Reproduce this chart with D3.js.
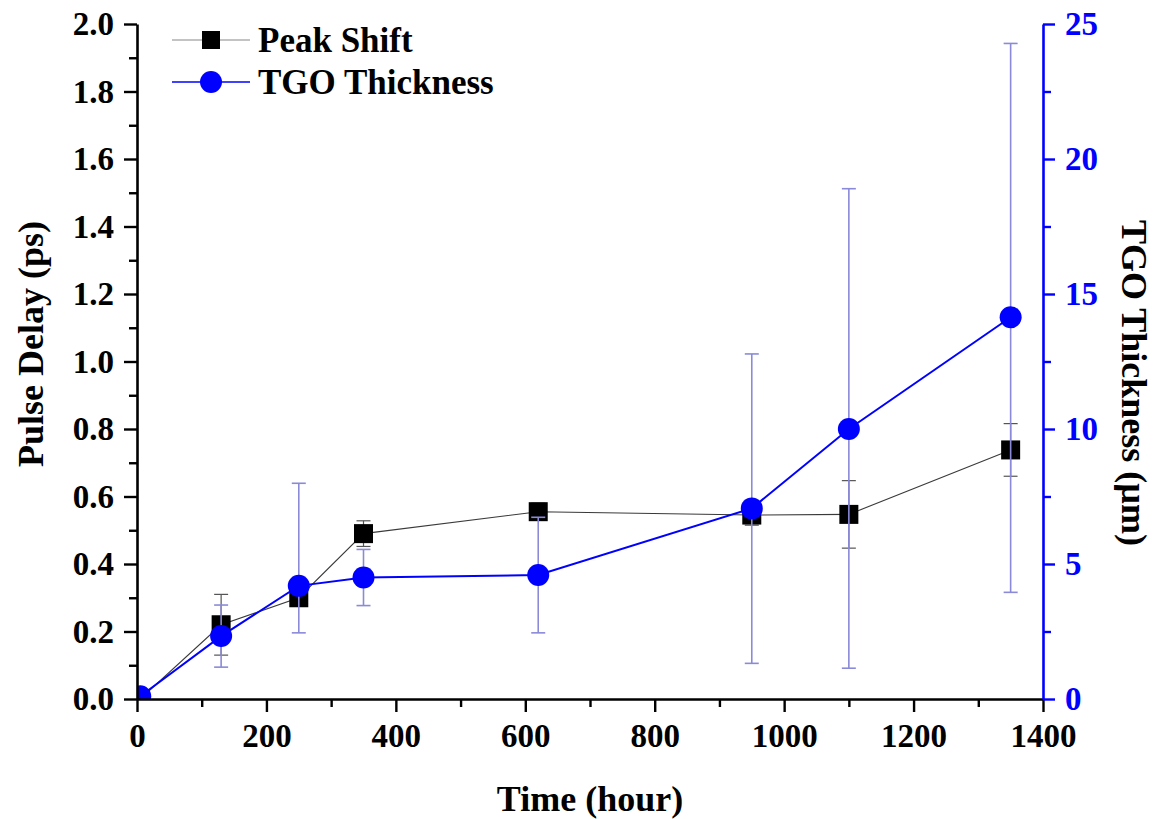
<!DOCTYPE html>
<html>
<head>
<meta charset="utf-8">
<script src="https://cdn.jsdelivr.net/npm/d3@7"></script>
<style>
  html, body { margin: 0; padding: 0; background: #fff; }
  svg { display: block; }
  text { font-family: "Liberation Serif", "Times New Roman", serif; font-weight: bold; }
</style>
</head>
<body>
<svg id="chart" width="1157" height="819"></svg>
<script>
// Time points (hours)
const times = [5, 130, 250, 350, 620, 950, 1100, 1350];
// Peak shift (pulse delay, ps) and its error
const peakShift = [0, 0.22, 0.30, 0.49, 0.555, 0.545, 0.547, 0.738];
const peakErr = [0, 0.09, 0.02, 0.038, 0.025, 0.03, 0.10, 0.078];
// TGO thickness (µm) with lower / upper error
const tgo = [0.1, 2.33, 4.19, 4.5, 4.59, 7.06, 10.0, 14.14];
const tgoErrLow = [0, 1.15, 1.74, 1.04, 2.14, 5.74, 8.86, 10.19];
const tgoErrHigh = [0, 1.15, 3.8, 1.04, 2.14, 5.72, 8.9, 10.14];

const xTicks = [0, 200, 400, 600, 800, 1000, 1200, 1400];
const leftTicks = [0, 0.2, 0.4, 0.6, 0.8, 1.0, 1.2, 1.4, 1.6, 1.8, 2.0];
const rightTicks = [0, 5, 10, 15, 20, 25];

const BLUE = "#0000ff";
const ERR_BLUE = "#8a8ad8";

const svg = d3.select("#chart");

const x = d3.scaleLinear().domain([0, 1400]).range([137, 1043]);
const yL = d3.scaleLinear().domain([0, 2]).range([699, 24]);
const yR = d3.scaleLinear().domain([0, 25]).range([699, 24]);

// Data layer is clipped to the plot frame
svg.append("defs").append("clipPath").attr("id", "plot-clip")
  .append("rect").attr("x", 137).attr("y", 0).attr("width", 906).attr("height", 699);

function styleAxis(g, color, size) {
  g.select(".domain").attr("stroke", color).attr("stroke-width", 2.6);
  g.selectAll(".tick line").attr("stroke", color).attr("stroke-width", 2.4);
  g.selectAll(".tick text")
    .attr("fill", color)
    .style("font-size", size + "px")
    .style("font-family", "'Liberation Serif', 'Times New Roman', serif")
    .style("font-weight", "bold");
}

const peakData = times.map((t, i) => ({ t, v: peakShift[i], e: peakErr[i] }));
const tgoData = times.map((t, i) => ({ t, v: tgo[i], lo: tgoErrLow[i], hi: tgoErrHigh[i] }));

const plot = svg.append("g").attr("clip-path", "url(#plot-clip)");

// Peak shift series
plot.append("path").datum(peakData)
  .attr("fill", "none").attr("stroke", "#3a3a3a").attr("stroke-width", 1.1)
  .attr("d", d3.line().x(d => x(d.t)).y(d => yL(d.v)));

const pe = plot.append("g").selectAll("g").data(peakData.filter(d => d.e > 0)).join("g")
  .attr("stroke", "#555").attr("stroke-width", 1.2);
pe.append("line").attr("x1", d => x(d.t)).attr("x2", d => x(d.t))
  .attr("y1", d => yL(d.v - d.e)).attr("y2", d => yL(d.v + d.e));
pe.append("line").attr("x1", d => x(d.t) - 7).attr("x2", d => x(d.t) + 7)
  .attr("y1", d => yL(d.v - d.e)).attr("y2", d => yL(d.v - d.e));
pe.append("line").attr("x1", d => x(d.t) - 7).attr("x2", d => x(d.t) + 7)
  .attr("y1", d => yL(d.v + d.e)).attr("y2", d => yL(d.v + d.e));

plot.append("g").selectAll("rect").data(peakData).join("rect")
  .attr("x", d => x(d.t) - 9.5).attr("y", d => yL(d.v) - 9.5)
  .attr("width", 19).attr("height", 19).attr("fill", "#000");

// TGO thickness series
plot.append("path").datum(tgoData)
  .attr("fill", "none").attr("stroke", BLUE).attr("stroke-width", 2)
  .attr("d", d3.line().x(d => x(d.t)).y(d => yR(d.v)));

const te = plot.append("g").selectAll("g").data(tgoData.filter(d => d.hi > 0)).join("g")
  .attr("stroke", ERR_BLUE).attr("stroke-width", 1.6);
te.append("line").attr("x1", d => x(d.t)).attr("x2", d => x(d.t))
  .attr("y1", d => yR(d.v - d.lo)).attr("y2", d => yR(d.v + d.hi));
te.append("line").attr("x1", d => x(d.t) - 7).attr("x2", d => x(d.t) + 7)
  .attr("y1", d => yR(d.v - d.lo)).attr("y2", d => yR(d.v - d.lo));
te.append("line").attr("x1", d => x(d.t) - 7).attr("x2", d => x(d.t) + 7)
  .attr("y1", d => yR(d.v + d.hi)).attr("y2", d => yR(d.v + d.hi));

plot.append("g").selectAll("circle").data(tgoData).join("circle")
  .attr("cx", d => x(d.t)).attr("cy", d => yR(d.v)).attr("r", 11).attr("fill", BLUE);

// Minor ticks
const minorX = d3.range(100, 1400, 200);
const minorL = d3.range(1, 20, 2).map(d => d / 10);
const minorR = [2.5, 7.5, 12.5, 17.5, 22.5];

svg.append("g").attr("transform", "translate(0,699)")
  .call(d3.axisBottom(x).tickValues(minorX).tickSize(8).tickSizeOuter(0).tickFormat(""))
  .call(g => { styleAxis(g, "#000", 33); g.select(".domain").remove(); });
svg.append("g").attr("transform", "translate(137,0)")
  .call(d3.axisLeft(yL).tickValues(minorL).tickSize(8).tickSizeOuter(0).tickFormat(""))
  .call(g => { styleAxis(g, "#000", 33); g.select(".domain").remove(); });
svg.append("g").attr("transform", "translate(1043,0)")
  .call(d3.axisRight(yR).tickValues(minorR).tickSize(8).tickSizeOuter(0).tickFormat(""))
  .call(g => { styleAxis(g, BLUE, 33); g.select(".domain").remove(); });

// Major axes
svg.append("g").attr("transform", "translate(0,699)")
  .call(d3.axisBottom(x).tickValues(xTicks).tickSize(13).tickSizeOuter(0).tickPadding(12).tickFormat(d3.format("d")))
  .call(g => styleAxis(g, "#000", 33));
svg.append("g").attr("transform", "translate(137,0)")
  .call(d3.axisLeft(yL).tickValues(leftTicks).tickSize(13).tickSizeOuter(0).tickPadding(10).tickFormat(d3.format(".1f")))
  .call(g => styleAxis(g, "#000", 33));
svg.append("g").attr("transform", "translate(1043,0)")
  .call(d3.axisRight(yR).tickValues(rightTicks).tickSize(12).tickSizeOuter(0).tickPadding(10).tickFormat(d3.format("d")))
  .call(g => styleAxis(g, BLUE, 33));

// Axis titles
svg.append("text").attr("x", 590).attr("y", 811).attr("text-anchor", "middle")
  .style("font-size", "36px").text("Time (hour)");
svg.append("text").attr("transform", "translate(43,344) rotate(-90)").attr("text-anchor", "middle")
  .style("font-size", "36px").text("Pulse Delay (ps)");
svg.append("text").attr("transform", "translate(1122,383) rotate(90)").attr("text-anchor", "middle")
  .style("font-size", "36px").text("TGO Thickness (µm)");

// Legend
const legend = svg.append("g");
legend.append("line").attr("x1", 172).attr("x2", 250).attr("y1", 40).attr("y2", 40)
  .attr("stroke", "#888").attr("stroke-width", 1.2);
legend.append("rect").attr("x", 202).attr("y", 31).attr("width", 18).attr("height", 18).attr("fill", "#000");
legend.append("text").attr("x", 258).attr("y", 52).style("font-size", "35px").text("Peak Shift");
legend.append("line").attr("x1", 172).attr("x2", 250).attr("y1", 82).attr("y2", 82)
  .attr("stroke", BLUE).attr("stroke-width", 1.6);
legend.append("circle").attr("cx", 211).attr("cy", 82).attr("r", 11).attr("fill", BLUE);
legend.append("text").attr("x", 258).attr("y", 94).style("font-size", "35px").text("TGO Thickness");
</script>
</body>
</html>
